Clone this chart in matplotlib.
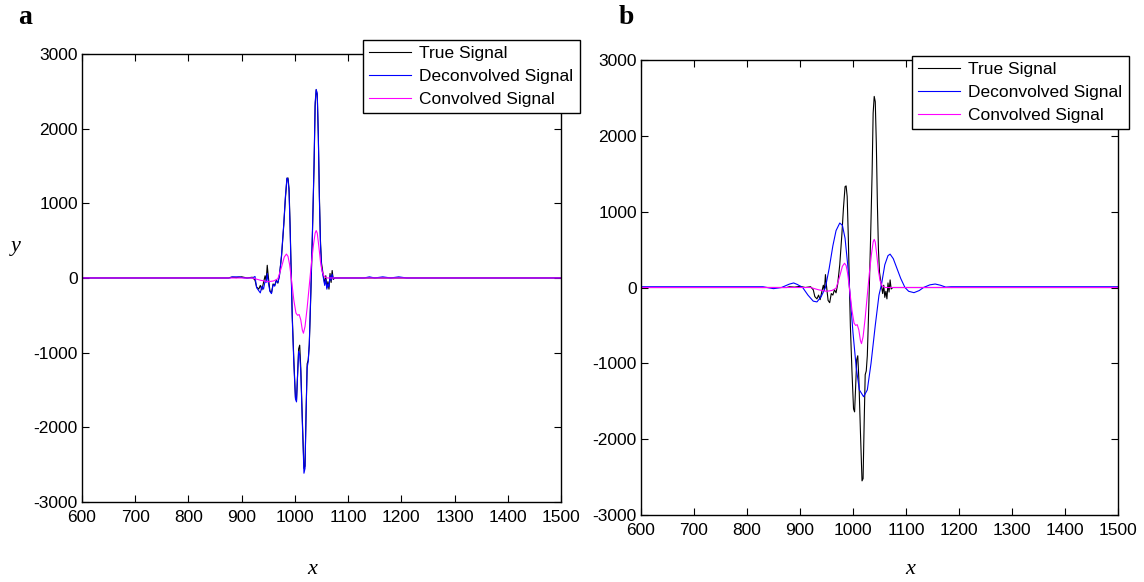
import numpy as np
import matplotlib.pyplot as plt

# ============== 数据 ==============
# true signal (same in both panels)
true_x = [600, 875, 880, 890, 900, 910, 920, 925, 928, 932, 935, 938, 941, 944, 946, 948,
          950, 953, 956, 959, 962, 965, 968, 971, 975, 979, 982, 985, 987, 989, 991, 993,
          995, 998, 1001, 1003, 1005, 1007, 1009, 1011, 1014, 1017, 1019, 1021, 1023, 1025,
          1027, 1030, 1033, 1036, 1038, 1040, 1042, 1044, 1046, 1048, 1050, 1053, 1056,
          1058, 1060, 1062, 1064, 1066, 1068, 1070, 1072, 1075, 1100, 1500]
true_y = [0, 0, 10, 5, 15, 0, 10, -30, -120, -150, -100, -160, -60, 30, -40, 170,
          20, -170, -200, -80, -100, -30, -70, 40, 300, 700, 1050, 1330, 1340, 1200, 700, 100,
          -500, -1100, -1600, -1640, -1300, -950, -900, -1200, -1900, -2550, -2520, -1800, -1150, -1100,
          -900, -200, 600, 1500, 2300, 2520, 2450, 1900, 1100, 500, 200, 50, -80,
          30, -130, -50, -150, 60, -60, 100, -20, 0, 0, 0]

# deconvolved signal, panel a
deca_x = [600, 878, 882, 895, 905, 920, 925, 928, 932, 935, 938, 941, 944, 946, 948,
          950, 953, 956, 959, 962, 965, 968, 971, 975, 979, 982, 985, 987, 989, 991, 993,
          995, 998, 1001, 1003, 1005, 1007, 1009, 1011, 1014, 1017, 1019, 1021, 1023, 1025,
          1027, 1030, 1033, 1036, 1038, 1040, 1042, 1044, 1046, 1048, 1050, 1053, 1056,
          1058, 1060, 1062, 1064, 1066, 1068, 1070, 1072, 1075, 1130, 1140, 1150, 1165,
          1180, 1195, 1210, 1220, 1500]
deca_y = [0, 0, 15, 15, 0, 0, 20, -130, -170, -200, -110, -150, -40, -60, 60,
          -60, -180, -210, -90, -110, -40, -60, 30, 320, 720, 1080, 1340, 1320, 1150, 650, 50,
          -550, -1150, -1620, -1660, -1300, -980, -1030, -1250, -1950, -2615, -2550, -1800, -1200, -1120,
          -880, -150, 650, 1550, 2350, 2525, 2470, 1900, 1050, 450, 150, 20, -100,
          -20, -150, -80, -120, 30, -30, 50, -10, 0, 0, 15, 0, 15,
          0, 15, 0, 0, 0]

# convolved signal (same in both panels)
conv_x = [600, 920, 935, 950, 960, 968, 975, 980, 984, 987, 990, 994, 998, 1002, 1005,
          1008, 1011, 1014, 1016, 1019, 1023, 1027, 1031, 1035, 1038, 1040, 1042, 1045,
          1048, 1051, 1055, 1060, 1500]
conv_y = [0, 0, -30, -50, -40, -10, 150, 280, 320, 290, 180, -50, -300, -470, -500,
          -490, -560, -700, -740, -650, -400, -100, 200, 450, 600, 635, 600, 420,
          220, 90, 20, 0, 0]

# deconvolved signal, panel b
decb_x = [600, 830, 850, 865, 880, 888, 895, 905, 915, 925, 932, 940, 948, 955, 962, 968,
          975, 980, 985, 990, 995, 1000, 1006, 1012, 1020, 1027, 1034, 1042, 1049, 1054,
          1060, 1066, 1070, 1076, 1083, 1090, 1098, 1105, 1115, 1125, 1133, 1145, 1155,
          1165, 1175, 1185, 1500]
decb_y = [10, 10, -15, 0, 45, 60, 40, 0, -100, -180, -190, -120, 0, 250, 550, 750,
          850, 820, 650, 300, -150, -600, -1050, -1350, -1440, -1350, -1000, -500, -100, 50,
          300, 420, 440, 380, 250, 120, 0, -50, -68, -40, 0, 35, 46,
          30, 5, 10, 10]

labels = ['True Signal', 'Deconvolved Signal', 'Convolved Signal']
xticks = list(range(600, 1501, 100))
yticks = list(range(-3000, 3001, 1000))

# ============== 绘图 ==============
plt.rcParams['font.family'] = ['Liberation Sans', 'DejaVu Sans']
plt.rcParams['axes.unicode_minus'] = False

fig = plt.figure(figsize=(11.44, 5.82), dpi=100)
ax_a = fig.add_axes([0.0717, 0.1375, 0.4187, 0.7698])
ax_b = fig.add_axes([0.5603, 0.1151, 0.4170, 0.7818])

panels = [
    (ax_a, deca_x, deca_y, (0.3173, 0.9313)),
    (ax_b, decb_x, decb_y, (0.7972, 0.9040)),
]

for ax, dx, dy, leg_pos in panels:
    ax.plot(true_x, true_y, color='black', linewidth=0.8, label=labels[0])
    ax.plot(dx, dy, color='#0000ff', linewidth=0.8, label=labels[1])
    ax.plot(conv_x, conv_y, color='#ff00ff', linewidth=0.8, label=labels[2])

    ax.set_xlim(600, 1500)
    ax.set_ylim(-3000, 3000)
    ax.set_xticks(xticks)
    ax.set_yticks(yticks)
    ax.tick_params(direction='in', top=True, right=True, labelsize=12.5, length=5)
    ax.tick_params(axis='x', pad=6)
    ax.tick_params(axis='y', pad=3)
    for s in ax.spines.values():
        s.set_linewidth(1.0)

    leg = ax.legend(loc='upper left', bbox_to_anchor=leg_pos, bbox_transform=fig.transFigure,
                    fontsize=12.5, frameon=True, fancybox=False, edgecolor='black',
                    handlelength=2.4, labelspacing=0.45, borderaxespad=0, borderpad=0.35,
                    handletextpad=0.5)
    leg.get_frame().set_linewidth(1.0)
    leg.get_frame().set_alpha(1)

# axis labels (italic serif, like the original)
fig.text(312 / 1144, 1 - 570 / 582, 'x', family='Liberation Serif', style='italic',
         fontsize=16, ha='center', va='center')
fig.text(910 / 1144, 1 - 570 / 582, 'x', family='Liberation Serif', style='italic',
         fontsize=16, ha='center', va='center')
fig.text(16 / 1144, 1 - 246 / 582, 'y', family='Liberation Serif', style='italic',
         fontsize=16, ha='center', va='center')

# panel letters
fig.text(25 / 1144, 1 - 18 / 582, 'a', family='Liberation Serif', weight='bold', fontsize=20,
         ha='center', va='center')
fig.text(626 / 1144, 1 - 17 / 582, 'b', family='Liberation Serif', weight='bold', fontsize=20,
         ha='center', va='center')

plt.savefig('out.png', dpi=100)
plt.close()
